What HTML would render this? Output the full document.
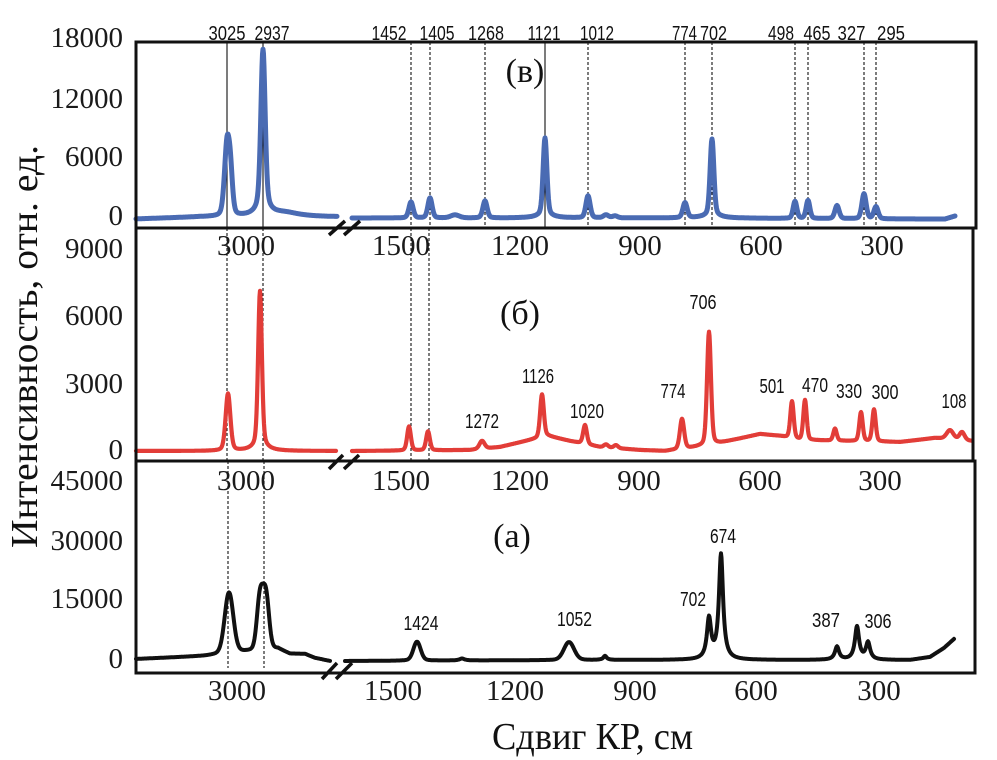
<!DOCTYPE html>
<html><head><meta charset="utf-8"><style>
body{margin:0;background:#fff}
svg{display:block}
.tk{font-family:"Liberation Serif",serif;font-size:29px;fill:#1a1a1a}
.pk{font-family:"Liberation Sans",sans-serif;font-size:20.5px;fill:#111}
.ttl{font-family:"Liberation Serif","DejaVu Serif",serif;font-size:38px;fill:#111}
.pl{font-family:"Liberation Serif","DejaVu Serif",serif;font-size:34px;fill:#111}
</style></head><body>
<svg id="s" width="997" height="760" viewBox="0 0 997 760" xmlns="http://www.w3.org/2000/svg">
<rect width="997" height="760" fill="#fff"/>
<!-- vertical guide lines -->
<g stroke="#111" stroke-width="1.1" fill="none">
  <line x1="227" y1="42" x2="227" y2="228"/>
  <line x1="263" y1="42" x2="263" y2="228"/>
  <line x1="545" y1="42" x2="545" y2="228"/>
  <g stroke-dasharray="3,2">
    <line x1="411" y1="42" x2="411" y2="228"/>
    <line x1="430" y1="42" x2="430" y2="228"/>
    <line x1="485" y1="42" x2="485" y2="228"/>
    <line x1="588" y1="42" x2="588" y2="228"/>
    <line x1="685" y1="42" x2="685" y2="228"/>
    <line x1="712" y1="42" x2="712" y2="228"/>
    <line x1="795" y1="42" x2="795" y2="228"/>
    <line x1="808" y1="42" x2="808" y2="228"/>
    <line x1="864" y1="42" x2="864" y2="228"/>
    <line x1="876" y1="42" x2="876" y2="228"/>
    <line x1="227" y1="228" x2="227" y2="461"/>
    <line x1="263" y1="228" x2="263" y2="461"/>
    <line x1="411" y1="228" x2="411" y2="461"/>
    <line x1="429" y1="228" x2="429" y2="461"/>
    <line x1="228" y1="461" x2="228" y2="668"/>
    <line x1="264" y1="461" x2="264" y2="668"/>
  </g>
</g>
<!-- curves -->
<path id="blue" fill="none" stroke="#4a6bb3" stroke-width="5" stroke-linejoin="round" stroke-linecap="round"/>
<path id="red" fill="none" stroke="#e23d38" stroke-width="4.2" stroke-linejoin="round" stroke-linecap="round"/>
<path id="black" fill="none" stroke="#111" stroke-width="4" stroke-linejoin="round" stroke-linecap="round"/>
<!-- boxes -->
<g fill="none" stroke="#111" stroke-width="3">
  <rect x="136" y="42" width="840" height="186"/>
  <rect x="136" y="228" width="837" height="233"/>
  <rect x="136" y="461" width="839" height="212"/>
</g>
<!-- break marks -->
<g stroke="#111" stroke-width="3.5" stroke-linecap="butt">
  <line x1="329" y1="235" x2="345" y2="221"/>
  <line x1="344" y1="235" x2="360" y2="221"/>
  <line x1="329" y1="469" x2="343" y2="455"/>
  <line x1="344" y1="469" x2="359" y2="455"/>
  <line x1="322" y1="679" x2="337" y2="663"/>
  <line x1="336" y1="679" x2="352" y2="663"/>
</g>
<!-- Y tick labels -->
<g class="tk" text-anchor="end">
  <text x="123" y="47">18000</text>
  <text x="123" y="108">12000</text>
  <text x="123" y="166">6000</text>
  <text x="123" y="225">0</text>
  <text x="123" y="258">9000</text>
  <text x="123" y="325">6000</text>
  <text x="123" y="393">3000</text>
  <text x="123" y="459">0</text>
  <text x="123" y="490">45000</text>
  <text x="123" y="550">30000</text>
  <text x="123" y="608">15000</text>
  <text x="123" y="668">0</text>
</g>
<!-- X tick labels -->
<g class="tk" text-anchor="middle">
  <text x="246" y="255">3000</text>
  <text x="401" y="255">1500</text>
  <text x="520" y="255">1200</text>
  <text x="640" y="255">900</text>
  <text x="761" y="255">600</text>
  <text x="882" y="255">300</text>
  <text x="246" y="490">3000</text>
  <text x="401" y="490">1500</text>
  <text x="520" y="490">1200</text>
  <text x="639" y="490">900</text>
  <text x="760" y="490">600</text>
  <text x="880" y="490">300</text>
  <text x="237" y="700">3000</text>
  <text x="393" y="700">1500</text>
  <text x="515" y="700">1200</text>
  <text x="635" y="700">900</text>
  <text x="756" y="700">600</text>
  <text x="879" y="700">300</text>
</g>
<!-- peak labels -->
<g class="pk" text-anchor="middle">
  <text x="227" y="40" textLength="37" lengthAdjust="spacingAndGlyphs">3025</text>
  <text x="272" y="40" textLength="35" lengthAdjust="spacingAndGlyphs">2937</text>
  <text x="389" y="40" textLength="35" lengthAdjust="spacingAndGlyphs">1452</text>
  <text x="437" y="40" textLength="35" lengthAdjust="spacingAndGlyphs">1405</text>
  <text x="486" y="40" textLength="36" lengthAdjust="spacingAndGlyphs">1268</text>
  <text x="544" y="40" textLength="33" lengthAdjust="spacingAndGlyphs">1121</text>
  <text x="597" y="40" textLength="34" lengthAdjust="spacingAndGlyphs">1012</text>
  <text x="684.5" y="40" textLength="25" lengthAdjust="spacingAndGlyphs">774</text>
  <text x="713.5" y="40" textLength="27" lengthAdjust="spacingAndGlyphs">702</text>
  <text x="781" y="40" textLength="26" lengthAdjust="spacingAndGlyphs">498</text>
  <text x="817" y="40" textLength="27" lengthAdjust="spacingAndGlyphs">465</text>
  <text x="851.5" y="40" textLength="28" lengthAdjust="spacingAndGlyphs">327</text>
  <text x="891" y="40" textLength="28" lengthAdjust="spacingAndGlyphs">295</text>

  <text x="482" y="428" textLength="34" lengthAdjust="spacingAndGlyphs">1272</text>
  <text x="538" y="383" textLength="32" lengthAdjust="spacingAndGlyphs">1126</text>
  <text x="587" y="418" textLength="34" lengthAdjust="spacingAndGlyphs">1020</text>
  <text x="673" y="398" textLength="25" lengthAdjust="spacingAndGlyphs">774</text>
  <text x="703" y="309" textLength="27" lengthAdjust="spacingAndGlyphs">706</text>
  <text x="772" y="393" textLength="25" lengthAdjust="spacingAndGlyphs">501</text>
  <text x="815" y="392" textLength="26" lengthAdjust="spacingAndGlyphs">470</text>
  <text x="849" y="398" textLength="26" lengthAdjust="spacingAndGlyphs">330</text>
  <text x="885" y="399" textLength="27" lengthAdjust="spacingAndGlyphs">300</text>
  <text x="954" y="408" textLength="25" lengthAdjust="spacingAndGlyphs">108</text>

  <text x="421" y="630" textLength="35" lengthAdjust="spacingAndGlyphs">1424</text>
  <text x="574.5" y="626" textLength="35" lengthAdjust="spacingAndGlyphs">1052</text>
  <text x="693" y="606" textLength="26" lengthAdjust="spacingAndGlyphs">702</text>
  <text x="723" y="543" textLength="26" lengthAdjust="spacingAndGlyphs">674</text>
  <text x="826" y="627" textLength="28" lengthAdjust="spacingAndGlyphs">387</text>
  <text x="878" y="628" textLength="27" lengthAdjust="spacingAndGlyphs">306</text>
</g>
<!-- panel labels -->
<g class="pl" text-anchor="middle">
  <text x="525" y="82">(в)</text>
  <text x="520" y="324">(б)</text>
  <text x="512" y="547">(а)</text>
</g>
<!-- axis titles -->
<text class="ttl" transform="translate(37,346.5) rotate(-90)" text-anchor="middle" textLength="403" lengthAdjust="spacingAndGlyphs">Интенсивность, отн. ед.</text>
<text class="ttl" x="592.5" y="749" text-anchor="middle" textLength="201" lengthAdjust="spacingAndGlyphs">Сдвиг КР, см</text>
</svg>
<script>
function interp(b,x){
  if(x<=b[0][0])return b[0][1];
  for(var i=1;i<b.length;i++){
    if(x<=b[i][0]){var a=b[i-1],c=b[i];return a[1]+(c[1]-a[1])*(x-a[0])/(c[0]-a[0]);}
  }
  return b[b.length-1][1];
}
function shape(t,type,s){
  if(type==='g')return Math.exp(-t*t/2);
  if(type==='v'){var g=Math.exp(-(t/0.85)*(t/0.85)/2);var l=1/(1+t*t);return 0.72*g+0.28*l;}
  return 1/(1+t*t);
}
function seg(x0,x1,base,peaks,def){
  var d='';
  for(var x=x0;x<=x1+0.001;x+=0.5){
    var y=interp(base,x);
    for(var i=0;i<peaks.length;i++){
      var p=peaks[i],t=(x-p[0])/p[2];
      y-=p[1]*shape(t,p[3]||def);
    }
    d+=(x===x0?'M':'L')+x.toFixed(1)+' '+y.toFixed(1)+' ';
  }
  return d;
}
var blue=seg(136,337,[[136,219],[200,217],[337,217]],
 [[227,70,3],[230.5,35,2.5],[263,150,2.5],[263,16,6,'l'],[285,4,18,'l']],'v')+
 seg(352,955,[[352,218],[700,218],[900,219],[945,219],[955,216]],
 [[411,16,2.5],[430,20,2.5],[455,3,5],[485,17,2.5],[545,76,2.2],[545,4,8,'l'],[588,22,2.5],[606,3,3],[615,2,3],
  [685,15,2.5],[712,75,2.2],[712,4,8,'l'],[795,17,2.2],[808,18,2.2],[837,13,2.5],[864,25,2.5],[876,12,2.5]],'v');
document.getElementById('blue').setAttribute('d',blue);

var red=seg(136,336,[[136,451],[336,451]],
 [[228,57,2.8],[260,152,2.2],[260,8,7,'l']],'v')+
 seg(352,972,[[352,451],[470,450],[500,447],[530,440],[548,436],[570,441],[600,447],[640,450],[665,451],[690,448],[720,443],[760,434],[780,436],[800,440],[850,441],[900,442],[935,438],[972,441]],
 [[409,24,2.2],[428,19,2.2],[482,8,3],[542,43,2.2],[585,19,2.2],[606,3,2.5],[616,3,2.5],
  [682,30,2.5],[709,113,2.3],[792,37,2],[805,40,2],[835,12,2],[861,29,2],[874,32,2],[950,9,4],[962,8,3]],'v');
document.getElementById('red').setAttribute('d',red);

var blk=seg(136,330,[[136,659],[205,656],[268,650],[278,649],[290,654],[305,654],[315,658],[330,661]],
 [[229,55,4.2,'g'],[229,6,8],[260,50,3,'g'],[266,50,3,'g'],[263,6,8]],'l')+
 seg(345,954,[[345,661],[600,660],[910,660],[930,657],[944,648],[954,639]],
 [[417,16,3.5,'g'],[417,3,6],[462,2,3],[569,16,5,'g'],[569,2,8],[605,4,2],[709,40,2.5],[721,105,2.5],
  [837,13,2.5],[857,33,2.5],[868,17,2.5]],'l');
document.getElementById('black').setAttribute('d',blk);
</script>
</body></html>
